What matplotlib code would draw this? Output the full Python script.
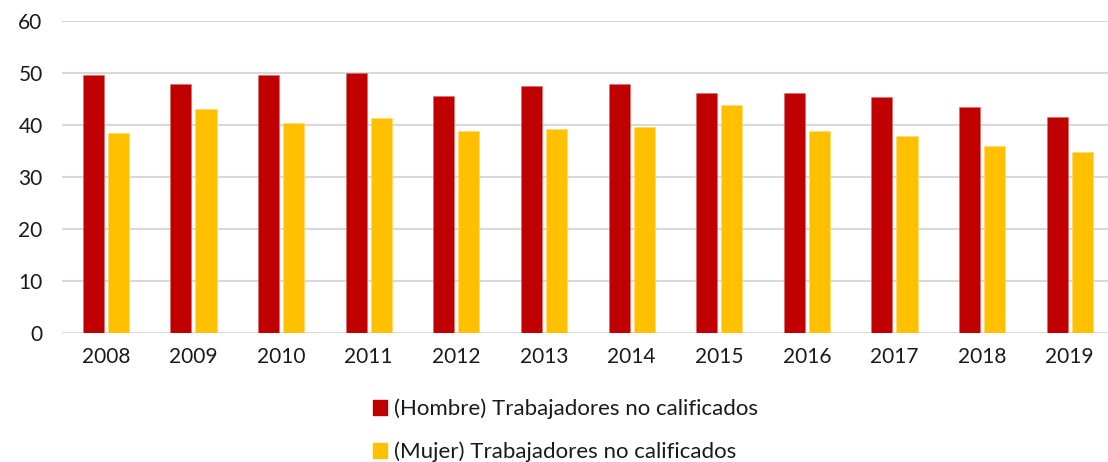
import matplotlib.pyplot as plt
import numpy as np
from matplotlib.patches import Rectangle

years = ['2008', '2009', '2010', '2011', '2012', '2013',
         '2014', '2015', '2016', '2017', '2018', '2019']
hombre = [49.6, 47.8, 49.7, 50.0, 45.5, 47.6, 47.8, 46.2, 46.2, 45.3, 43.4, 41.6]
mujer = [38.5, 43.1, 40.4, 41.4, 38.8, 39.3, 39.6, 43.9, 38.8, 37.9, 36.0, 34.8]
labels = ['(Hombre) Trabajadores no calificados',
          '(Mujer) Trabajadores no calificados']
colors = ['#C00000', '#FFC000']

plt.rcParams['font.family'] = ['Lato', 'DejaVu Sans']

fig = plt.figure(figsize=(11.08, 4.62), dpi=100)
ax = fig.add_axes([0.056, 0.2786, 0.949, 0.676])

x = np.arange(len(years))
w = 0.24
ax.bar(x - 0.143, hombre, w, color=colors[0], edgecolor='#d96b6b', linewidth=0.4, zorder=3)
ax.bar(x + 0.143, mujer, w, color=colors[1], edgecolor='#ffd766', linewidth=0.4, zorder=3)

ax.set_xlim(-0.5, len(years) - 0.5)
ax.set_ylim(0, 60)
ax.set_yticks(range(0, 61, 10))
ax.set_xticks(x)
ax.set_xticklabels(years)
ax.yaxis.grid(True, color='#d9d9d9', linewidth=1.5, zorder=0)
ax.set_axisbelow(True)
for s in ax.spines.values():
    s.set_visible(False)
ax.tick_params(axis='both', length=0, labelsize=15, colors='#1a1a1a')
ax.tick_params(axis='y', pad=14)
ax.tick_params(axis='x', pad=10)

handles = [Rectangle((0, 0), 1, 1, color=c) for c in colors]
fig.legend(handles, labels, loc='center', bbox_to_anchor=(0.51, 0.068),
           ncol=1, frameon=False, fontsize=16, handlelength=0.65,
           handleheight=0.65, handletextpad=0.3, labelspacing=1.0,
           labelcolor='#1a1a1a')

fig.savefig('out.png', dpi=100)
